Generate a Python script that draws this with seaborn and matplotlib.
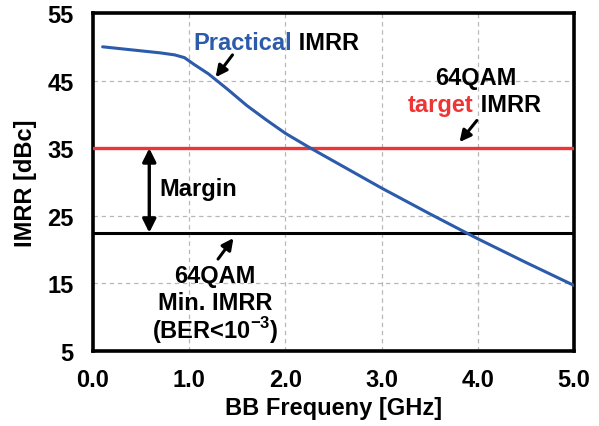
import matplotlib
matplotlib.use("Agg")
import matplotlib.pyplot as plt
import seaborn as sns
import pandas as pd

# Practical IMRR versus baseband frequency
freq_ghz = [0.1, 0.3, 0.5, 0.7, 0.85, 0.95, 1.05, 1.2, 1.4, 1.6, 1.8, 2.0,
            2.25, 2.5, 3.0, 3.5, 4.0, 4.5, 5.0]
imrr_dbc = [50.0, 49.7, 49.4, 49.1, 48.8, 48.4, 47.4, 46.0, 43.7, 41.3, 39.2,
            37.2, 35.1, 33.1, 29.1, 25.3, 21.6, 18.1, 14.7]

target_imrr = 35.0     # 64QAM target IMRR
min_imrr = 22.5        # 64QAM minimum IMRR (BER < 1e-3)

x_ticks = [0.0, 1.0, 2.0, 3.0, 4.0, 5.0]
x_tick_labels = ["0.0", "1.0", "2.0", "3.0", "4.0", "5.0"]
y_ticks = [5, 15, 25, 35, 45, 55]

BLUE = "#2B5BAA"
RED = "#EE3535"
FS = 17

sns.set_theme(style="white")
plt.rcParams["font.family"] = ["Liberation Sans", "DejaVu Sans"]
plt.rcParams["font.weight"] = "bold"
plt.rcParams["mathtext.fontset"] = "custom"
plt.rcParams["mathtext.bf"] = "Liberation Sans:bold"
plt.rcParams["mathtext.rm"] = "Liberation Sans:bold"
for key in ["text.color", "axes.labelcolor", "xtick.color", "ytick.color"]:
    plt.rcParams[key] = "black"

fig = plt.figure(figsize=(5.99, 4.27), dpi=100)
ax = fig.add_axes([93 / 599, 1 - 352 / 427, (574 - 93) / 599, (352 - 14) / 427])

df = pd.DataFrame({"freq": freq_ghz, "imrr": imrr_dbc})
sns.lineplot(data=df, x="freq", y="imrr", ax=ax, color=BLUE, lw=2.2, zorder=4)

ax.axhline(target_imrr, color=RED, lw=2.4, zorder=3)
ax.axhline(min_imrr, color="black", lw=2.2, zorder=3)

ax.set_xlim(0, 5)
ax.set_ylim(5, 55)
ax.set_xticks(x_ticks)
ax.set_xticklabels(x_tick_labels)
ax.set_yticks(y_ticks)
ax.tick_params(axis="both", length=0, labelsize=FS, colors="black")
ax.tick_params(axis="x", pad=12)
ax.tick_params(axis="y", pad=14)
for lab in ax.get_xticklabels() + ax.get_yticklabels():
    lab.set_fontweight("bold")

ax.grid(True, color="#b8b8b8", lw=0.9, ls=(0, (3.5, 3)))
for s in ax.spines.values():
    s.set_visible(True)
    s.set_color("black")
    s.set_linewidth(2.6)

ax.set_xlabel("BB Frequeny [GHz]", fontsize=FS, fontweight="bold", labelpad=4)
ax.set_ylabel("IMRR [dBc]", fontsize=FS, fontweight="bold", labelpad=7)

arrow_kw = dict(arrowstyle="-|>", color="black", lw=2.2, mutation_scale=17,
                shrinkA=0, shrinkB=0)

# "Practical IMRR" label with arrow to the curve
t1 = ax.text(1.04, 50.7, "Practical", color=BLUE, fontsize=FS,
             fontweight="bold", ha="left", va="center")
ax.annotate(" IMRR", xy=(1, 0), xycoords=t1, ha="left", va="bottom",
            fontsize=FS, fontweight="bold", color="black")
ax.annotate("", xy=(1.275, 45.5), xytext=(1.45, 48.8), arrowprops=arrow_kw)

# "64QAM target IMRR" label with arrow to the red line
ax.text(3.98, 45.5, "64QAM", fontsize=FS, fontweight="bold",
        ha="center", va="center")
t2 = ax.text(3.275, 41.4, "target", color=RED, fontsize=FS,
             fontweight="bold", ha="left", va="center")
ax.annotate(" IMRR", xy=(1, 0), xycoords=t2, ha="left", va="bottom",
            fontsize=FS, fontweight="bold", color="black")
ax.annotate("", xy=(3.81, 35.9), xytext=(3.99, 39.1), arrowprops=arrow_kw)

# Margin between target and minimum IMRR
ax.annotate("", xy=(0.585, min_imrr), xytext=(0.585, target_imrr),
            arrowprops=dict(arrowstyle="<|-|>", color="black", lw=2.4,
                            mutation_scale=20, shrinkA=0, shrinkB=0))
ax.text(0.69, 29.0, "Margin", fontsize=FS, fontweight="bold",
        ha="left", va="center")

# "64QAM Min. IMRR (BER<10^-3)" label with arrow to the black line
ax.annotate("", xy=(1.46, 21.7), xytext=(1.30, 18.6), arrowprops=arrow_kw)
ax.text(1.27, 16.2, "64QAM", fontsize=FS, fontweight="bold",
        ha="center", va="center")
ax.text(1.27, 12.2, "Min. IMRR", fontsize=FS, fontweight="bold",
        ha="center", va="center")
ax.text(1.27, 8.2, r"(BER<10$^{\mathbf{-3}}$)", fontsize=FS,
        fontweight="bold", ha="center", va="center")

fig.savefig("out.png", dpi=100)
